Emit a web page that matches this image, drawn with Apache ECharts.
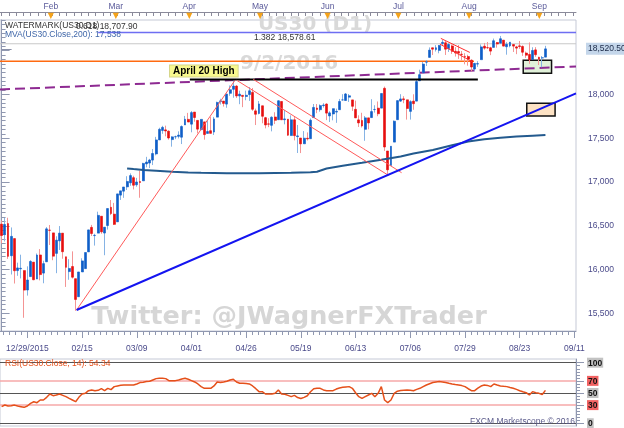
<!DOCTYPE html>
<html><head><meta charset="utf-8">
<script src="https://cdn.jsdelivr.net/npm/echarts@6/dist/echarts.min.js"></script>
<style>html,body{margin:0;padding:0;background:#fff}#c{width:624px;height:428px}</style>
</head><body><div id="c"></div>
<script>
// ---- DATA ----
// daily candles [open, close, low, high], 11 Jan 2016 .. 2 Sep 2016 (weekdays)
const ohlc = [
[16520,16390,16300,16560],[16400,16516,16322,16591],[16526,16152,16123,16593],[16159,16380,15945,16482],[16355,15988,15842,16355],
[15990,16020,15930,16080],[16009,16016,15900,16171],[15990,15767,15451,15990],[15768,15882,15704,16038],[15921,16094,15921,16108],
[16086,15885,15880,16086],[15893,16167,15893,16185],[16168,15944,15878,16235],[15961,16069,15845,16102],[16090,16466,16090,16486],
[16452,16449,16282,16510],[16420,16154,16108,16420],[16186,16337,15960,16381],[16329,16417,16225,16498],[16417,16205,16125,16417],
[16147,16027,15803,16147],[15978,16014,15885,16120],[16036,15914,15899,16209],[15897,15660,15530,15897],[15691,15974,15691,15974],
[15974,16100,15974,16130],[16012,16196,16012,16196],[16203,16454,16203,16456],[16483,16413,16385,16511],[16389,16392,16275,16410],
[16417,16620,16417,16662],[16610,16432,16410,16610],[16418,16485,16165,16485],[16504,16698,16458,16698],[16712,16640,16623,16795],
[16634,16517,16510,16762],[16546,16865,16546,16866],[16851,16900,16796,16900],[16896,16944,16820,16944],[16945,17007,16910,17067],
[16991,17074,16957,17099],[17050,16964,16916,17072],[16969,17001,16947,17048],[17006,16995,16821,17130],[17014,17213,17014,17220],
[17207,17229,17168,17288],[17217,17252,17160,17265],[17251,17326,17194,17377],[17321,17481,17305,17516],[17481,17602,17481,17620],
[17589,17624,17551,17642],[17596,17583,17522,17644],[17581,17503,17484,17590],[17485,17516,17404,17523],[17516,17518,17490,17530],
[17522,17536,17498,17579],[17512,17634,17434,17647],[17652,17717,17652,17755],[17716,17685,17685,17790],[17661,17793,17568,17811],
[17799,17737,17689,17799],[17704,17604,17556,17704],[17598,17716,17592,17716],[17687,17542,17484,17687],[17555,17577,17555,17704],
[17586,17556,17556,17745],[17571,17721,17537,17744],[17741,17909,17741,17918],[17919,17927,17885,17951],[17925,17898,17862,17925],
[17890,18004,17848,18009],[18013,18054,17985,18103],[18059,18096,17963,18167],[18096,17983,17960,18107],[17983,18004,17889,18043],
[17990,17978,17855,17990],[17977,17991,17934,18044],[17999,18042,17926,18084],[18023,17831,17813,18074],[17813,17774,17651,17838],
[17783,17892,17773,17925],[17871,17751,17671,17871],[17735,17652,17613,17744],[17664,17661,17627,17729],[17648,17740,17579,17751],
[17743,17705,17662,17797],[17712,17928,17712,17934],[17920,17711,17711,17920],[17712,17721,17659,17824],[17718,17535,17528,17718],
[17531,17711,17531,17762],[17711,17530,17476,17751],[17519,17527,17332,17652],[17503,17436,17331,17503],[17437,17501,17437,17582],
[17500,17493,17474,17567],[17495,17706,17495,17726],[17736,17852,17736,17891],[17845,17829,17786,17891],[17826,17873,17803,17887],
[17873,17880,17850,17900],[17891,17787,17707,17899],[17755,17790,17686,17809],[17777,17838,17705,17838],[17799,17807,17676,17838],
[17826,17920,17826,17949],[17938,17938,17930,18003],[17931,18006,17931,18016],[17969,17985,17915,18005],[17938,17865,17812,17938],
[17830,17733,17730,17930],[17710,17675,17629,17762],[17703,17640,17623,17791],[17602,17733,17471,17754],[17733,17675,17602,17733],
[17736,17805,17736,17946],[17828,17829,17793,17877],[17844,17780,17752,17920],[17844,18011,17844,18011],[18070,17400,17356,18090],
[17355,17140,17070,17355],[17190,17409,17190,17409],[17456,17695,17456,17704],[17712,17930,17711,17930],[17924,17949,17916,18003],
[17950,17940,17900,17980],[17939,17840,17713,17939],[17807,17918,17713,17934],[17924,17895,17825,18002],[17924,18147,17924,18166],
[18156,18226,18156,18283],[18248,18347,18248,18371],[18369,18372,18325,18393],[18423,18506,18423,18537],[18533,18517,18450,18534],
[18513,18533,18490,18563],[18503,18559,18470,18565],[18582,18595,18564,18622],[18590,18517,18451,18611],[18524,18571,18485,18584],
[18554,18493,18463,18571],[18493,18473,18433,18540],[18490,18472,18406,18564],[18460,18456,18387,18496],[18435,18432,18344,18471],
[18433,18404,18329,18453],[18391,18313,18265,18401],[18290,18355,18270,18359],[18347,18352,18315,18380],[18397,18543,18397,18571],
[18551,18529,18511,18588],[18535,18533,18519,18599],[18533,18495,18449,18544],[18537,18613,18537,18638],[18593,18576,18534,18598],
[18585,18636,18585,18668],[18620,18552,18549,18620],[18545,18573,18454,18597],[18555,18597,18538,18598],[18570,18552,18485,18570],
[18543,18529,18460,18555],[18555,18547,18520,18610],[18548,18482,18440,18560],[18473,18448,18418,18490],[18457,18395,18350,18594],
[18399,18502,18396,18539],[18509,18454,18430,18540],[18425,18401,18336,18430],[18416,18419,18311,18439],[18426,18520.5,18426,18555]
];
const rsi = [
27.4,30.1,28.5,29,30,28.5,27.4,26.3,28.5,32.9,
35.6,34,38.4,38.4,42.8,48.3,45.6,46.7,48.3,46.1,
43.9,41.1,38.4,35.6,42.8,48.3,49.4,53.8,55,53.8,
54.4,57.1,53.8,57.7,55.5,60.5,61.6,62.7,63.2,63.2,
63.2,63.2,64.9,67.2,67.7,68.8,69.3,71.5,73.7,74.3,
74.3,73.7,70.4,70.4,70.4,71.5,73.2,74.3,72.6,70.4,
68.2,64.9,60.5,57.7,57.7,57.7,61.6,68.2,67.2,68.2,
69.3,71.5,72.6,68.2,66,66,65.5,64.9,61.6,57.1,
52.2,52.2,48.3,48.3,48.3,49.4,55,48.3,47.8,46.1,
43.9,46.1,42.5,40.8,42.8,45.5,52,57,57.7,57.7,
55,53.8,53.8,53.8,56.5,58.3,59.4,60,60.5,57.7,
50.5,43.9,41.1,43.9,46.7,49.4,43.9,49.4,60.5,38.4,
34,38.4,49.4,53,54.2,54.6,55,54.4,53.8,56,
57.7,60.5,63.2,65.2,67.2,68.2,68.8,68.2,67.2,66,
64.9,64,63.2,62.2,60.5,57,53.8,53.8,58,61.5,
63.2,62.5,60.5,64.9,63.2,61.6,61,60.5,59,57.7,
56,53.8,52,50.5,46.7,52.2,50.5,49.4,47.5,54.34
];
const maIdx = [39,41,44,48,53,58,62,70,80,90,96,98,101,106,112,118,124,128,134,140,145,150,155,160,165,169];
const maVal = [17155,17148,17138,17130,17118,17110,17106,17102,17102,17106,17112,17118,17155,17187,17220,17255,17292,17325,17366,17420,17462,17490,17507,17520,17530,17538];
const xTickIdx = [8,25,42,59,76,93,110,127,144,161,178];
const xTickLabels = ['12/29/2015','02/15','03/09','04/01','04/26','05/19','06/13','07/06','07/29','08/23','09/11'];
const monthPos = [15.3,35.5,58.3,80.3,101.3,123.3,145.3,167.1];
const monthLabels = ['Feb','Mar','Apr','May','Jun','Jul','Aug','Sep'];
const priceTicks = [15500,16000,16500,17000,17500,18000,18500];
const rsiTicks = [0,30,50,70,100];
const lastPrice = 18520.5;
const maLast = 17538;
const rsiLast = 54.34;
const fib618 = 18707.90, fib1382 = 18578.61;
// drawn studies, [barIndex, price]
const trendBlue = [[23.3,15540],[178.5,18013]];
const trendPurple = [[-0.5,18057],[178.5,18319]];
const redUp = [[23.3,15540],[72.5,18161]];
const redDownA = [[73.1,18161],[120.2,17077]];
const redDownB = [[78.2,18173],[124.3,17107]];
const flagUpper = [[136.5,18640],[145.5,18480]];
const flagLower = [[136.2,18575],[146.2,18375]];
const orangeLine = [[-0.5,18380],[146.8,18380]];
const aprilHighLine = [[58.5,18171],[148,18171]];
const fib618Line = [[30,fib618],[178.5,fib618]];
const fib1382Line = [[-0.5,fib1382],[178.5,fib1382]];
const greenBox = [[162.1,18390],[170.9,18241]];
const peachBox = [[163.2,17899],[172,17754]];

// ---- CHART ----
const N = 179;
const cats = Array.from({length:N},(_,i)=>String(i));
const fmt = v => String(v).replace(/\B(?=(\d{3})+(?!\d))/g, ',');
const near = (arr, v) => { let b=-1,d=1e9; arr.forEach((a,i)=>{const e=Math.abs(a-v); if(e<d){d=e;b=i;}}); return d<0.3?b:-1; };
const minor50 = []; for (let v=15300; v<=18850; v+=50) minor50.push(v);
const rsiMinor = []; for (let v=0; v<=100; v+=5) rsiMinor.push(v);
const topTicks = []; for (let k=0; k*2.247<=178.5; k++) topTicks.push(k*2.247);
const botMinor = []; for (let k=-4; k<100; k++) { const v = 8 + k*17/9; if (v>=-0.5 && v<=178.5 && Math.abs((k%9))!==0) botMinor.push(v); }
const FONT = 'Liberation Sans';
const axisCol = '#9098b0';
const labCol = '#4a4a8a';

const bodies = ohlc.map(d => [d[0], d[1], Math.min(d[0],d[1]), Math.max(d[0],d[1])]);

function seg(data, color, width, type, z) {
  return { type:'line', xAxisIndex:1, yAxisIndex:0, data, symbol:'none', silent:true, animation:false,
    lineStyle:{color, width, type: type||'solid'}, z: z||5 };
}

const baseY = {gridIndex:0, type:'value', position:'right', min:15300, max:18850, splitLine:{show:false}, axisPointer:{show:false}};
const baseX = {gridIndex:0, type:'value', min:-0.5, max:178.5, splitLine:{show:false}, axisPointer:{show:false}};

const option = {
  animation:false,
  backgroundColor:'#ffffff',
  textStyle:{fontFamily:FONT},
  grid:[
    {left:0, right:48, top:20, bottom:97, show:true, borderColor:'#c5c9d6', borderWidth:1, containLabel:false, outerBoundsMode:'none'},
    {left:0, right:48, top:359, bottom:2, show:true, borderColor:'#c5c9d6', borderWidth:1, containLabel:false, outerBoundsMode:'none'}
  ],
  xAxis:[
    {gridIndex:0, type:'category', data:cats, boundaryGap:true, show:false},
    Object.assign({}, baseX, {position:'bottom', axisLine:{show:true, lineStyle:{color:axisCol}},
      axisTick:{show:true, length:7, customValues:xTickIdx, lineStyle:{color:axisCol}},
      axisLabel:{show:true, customValues:xTickIdx, margin:13, fontSize:8.5, fontFamily:FONT, color:labCol, hideOverlap:false,
        formatter:v=>{const i=near(xTickIdx,v); return i<0?'':xTickLabels[i];}}}),
    Object.assign({}, baseX, {position:'bottom', axisLine:{show:false},
      axisTick:{show:true, length:4, customValues:botMinor, lineStyle:{color:axisCol}}, axisLabel:{show:false}}),
    Object.assign({}, baseX, {position:'top', offset:8, axisLine:{show:true, lineStyle:{color:'#8a8a9a'}},
      axisTick:{show:true, inside:true, length:4, customValues:topTicks, lineStyle:{color:'#8a8a9a'}},
      axisLabel:{show:true, customValues:monthPos, margin:-8, hideOverlap:false,
        formatter:v=>{const i=near(monthPos,v); return i<0?'':'{m|'+monthLabels[i]+'}\n{t|▼}';},
        rich:{m:{fontSize:8.5, fontFamily:FONT, color:'#5a5a9a', lineHeight:11, align:'center'},
              t:{fontSize:8, fontFamily:'DejaVu Sans', color:'#f5a31a', lineHeight:8, align:'center'}}}}),
    {gridIndex:1, type:'category', data:cats, boundaryGap:true, show:false}
  ],
  yAxis:[
    Object.assign({}, baseY, {axisLine:{show:true, lineStyle:{color:axisCol}},
      axisTick:{show:true, length:4, customValues:minor50, lineStyle:{color:axisCol}}, axisLabel:{show:false}}),
    Object.assign({}, baseY, {axisLine:{show:false},
      axisTick:{show:true, length:8, customValues:priceTicks, lineStyle:{color:axisCol}},
      axisLabel:{show:true, customValues:priceTicks, margin:12, fontSize:8.5, fontFamily:FONT, color:labCol, hideOverlap:false,
        showMinLabel:true, showMaxLabel:true,
        formatter:v=>priceTicks.indexOf(v)<0?'':fmt(v)}}),
    Object.assign({}, baseY, {axisLine:{show:false},
      axisTick:{show:true, length:10, customValues:[lastPrice], lineStyle:{color:'#8a90a8'}},
      axisLabel:{show:true, customValues:[lastPrice], margin:10, fontSize:8.5, fontFamily:FONT, color:'#1c2a48', hideOverlap:false,
        backgroundColor:'#c4d6ea', padding:[2,3,1,2],
        formatter:v=>Math.abs(v-lastPrice)<0.01?'18,520.50':''}}),
    {gridIndex:1, type:'value', position:'right', min:-4.5, max:106.1, splitLine:{show:false},
      axisLine:{show:true, lineStyle:{color:axisCol}},
      axisTick:{show:true, length:4, customValues:rsiMinor, lineStyle:{color:axisCol}}, axisLabel:{show:false}},
    {gridIndex:1, type:'value', position:'right', min:-4.5, max:106.1, splitLine:{show:false},
      axisLine:{show:false},
      axisTick:{show:true, length:8, customValues:rsiTicks, lineStyle:{color:axisCol}},
      axisLabel:{show:true, customValues:rsiTicks, margin:11, hideOverlap:false,
        formatter:v=>{ if(rsiTicks.indexOf(v)<0) return ''; return (v===30||v===70?'{r|':'{g|')+v+'}'; },
        rich:{g:{backgroundColor:'#c2c2c2', color:'#111', fontSize:8.5, fontFamily:FONT, fontWeight:'bold', padding:[1,1,0,1]},
              r:{backgroundColor:'#f26262', color:'#111', fontSize:8.5, fontFamily:FONT, fontWeight:'bold', padding:[1,1,0,1]}}}}
  ],
  series:[
    {type:'line', xAxisIndex:1, yAxisIndex:0, data:[], symbol:'none', silent:true, z:1,
      markArea:{silent:true, data:[
        [{coord:greenBox[0], itemStyle:{color:'#e1f1d9', borderColor:'#111', borderWidth:1.5}}, {coord:greenBox[1]}],
        [{coord:peachBox[0], itemStyle:{color:'#fde2c4', borderColor:'#111', borderWidth:1.5}}, {coord:peachBox[1]}]
      ]}},
    seg(fib1382Line, '#c8c8c8', 1, 'solid', 2),
    seg(fib618Line, '#6e6ef2', 1.5, 'solid', 2),
    seg(orangeLine, '#ff6a10', 1.5, 'solid', 2),
    seg(trendPurple, '#8e2a92', 2, [10,5], 2),
    {type:'candlestick', xAxisIndex:0, yAxisIndex:0, data:ohlc, barWidth:1, silent:true, z:3,
      itemStyle:{color:'#86b3e4', color0:'#f49494', borderColor:'#86b3e4', borderColor0:'#f49494', borderWidth:1}},
    {type:'candlestick', xAxisIndex:0, yAxisIndex:0, data:bodies, barWidth:2.4, silent:true, z:4,
      itemStyle:{color:'#0f5ec8', color0:'#e60e0e', borderColor:'#0f5ec8', borderColor0:'#e60e0e', borderWidth:0.6}},
    {type:'line', xAxisIndex:1, yAxisIndex:0, data:maIdx.map((x,i)=>[x,maVal[i]]), symbol:'none', silent:true, z:5,
      lineStyle:{color:'#235a8e', width:2}},
    seg(aprilHighLine, '#000000', 2, 'solid', 6),
    seg(redUp, '#ff5a5a', 1, 'solid', 6),
    seg(redDownA, '#ff5a5a', 1, 'solid', 6),
    seg(redDownB, '#ff5a5a', 1, 'solid', 6),
    seg(flagUpper, '#ff3030', 1, 'solid', 6),
    seg(flagLower, '#ff3030', 1, 'solid', 6),
    seg(trendBlue, '#1414f0', 2, 'solid', 6),
    {type:'line', xAxisIndex:4, yAxisIndex:3, data:rsi, symbol:'none', silent:true, z:5,
      lineStyle:{color:'#e5501a', width:1.5},
      markLine:{silent:true, symbol:'none', label:{show:false}, animation:false,
        data:[
          {yAxis:100, lineStyle:{color:'#555', width:1, type:'solid'}},
          {yAxis:70, lineStyle:{color:'#f6a8a8', width:1.5, type:'solid'}},
          {yAxis:50, lineStyle:{color:'#555', width:1, type:'solid'}},
          {yAxis:30, lineStyle:{color:'#f6a8a8', width:1.5, type:'solid'}},
          {yAxis:0, lineStyle:{color:'#555', width:1, type:'solid'}}
        ]}}
  ],
  graphic:[
    {type:'text', z:0, x:315, y:25, style:{text:'US30 (D1)', font:'bold 20px "DejaVu Sans"', fill:'#d9d9d9', align:'center', verticalAlign:'middle', textAlign:'center', textVerticalAlign:'middle'}},
    {type:'text', z:0, x:289, y:64, style:{text:'9/2/2016', font:'bold 20px "DejaVu Sans"', fill:'#d9d9d9', align:'center', verticalAlign:'middle', textAlign:'center', textVerticalAlign:'middle'}},
    {type:'text', z:0, x:289, y:317, style:{text:'Twitter: @JWagnerFXTrader', font:'bold 25.5px "DejaVu Sans"', fill:'#d6d6d6', align:'center', verticalAlign:'middle', textAlign:'center', textVerticalAlign:'middle'}},
    {type:'text', z:50, x:5, y:25.5, style:{text:'WATERMARK(US30.D1)', font:'8.5px "Liberation Sans"', fill:'#333', align:'left', verticalAlign:'middle', textAlign:'left', textVerticalAlign:'middle'}},
    {type:'text', z:50, x:5, y:34.5, style:{text:'MVA(US30.Close,200): ' + fmt(maLast), font:'8.5px "Liberation Sans"', fill:'#3f66a8', align:'left', verticalAlign:'middle', textAlign:'left', textVerticalAlign:'middle'}},
    {type:'text', z:50, x:76, y:27, style:{text:'0.618 ' + fmt(fib618.toFixed(2)), font:'8.5px "Liberation Sans"', fill:'#333', align:'left', verticalAlign:'middle', textAlign:'left', textVerticalAlign:'middle'}},
    {type:'text', z:50, x:254, y:38, style:{text:'1.382 ' + fmt(fib1382.toFixed(2)), font:'8.5px "Liberation Sans"', fill:'#333', align:'left', verticalAlign:'middle', textAlign:'left', textVerticalAlign:'middle'}},
    {type:'text', z:50, x:170, y:71, style:{text:'April 20 High', font:'bold 10px "Liberation Sans"', fill:'#000', align:'left', verticalAlign:'middle', textAlign:'left', textVerticalAlign:'middle',
      backgroundColor:'#f8f88e', borderColor:'#d6d68a', borderWidth:1, padding:[1,3,0,3]}},
    {type:'text', z:50, x:5, y:363.5, style:{text:'RSI(US30.Close, 14): ' + rsiLast.toFixed(2), font:'8.5px "Liberation Sans"', fill:'#e5501a', align:'left', verticalAlign:'middle', textAlign:'left', textVerticalAlign:'middle'}},
    {type:'text', z:50, x:575, y:421.5, style:{text:'FXCM Marketscope © 2016', font:'8.5px "Liberation Sans"', fill:'#5a5a8a', align:'right', verticalAlign:'middle', textAlign:'right', textVerticalAlign:'middle'}}
  ]
};
const chart = echarts.init(document.getElementById('c'), null, {renderer:'canvas'});
chart.setOption(option);
</script></body></html>
